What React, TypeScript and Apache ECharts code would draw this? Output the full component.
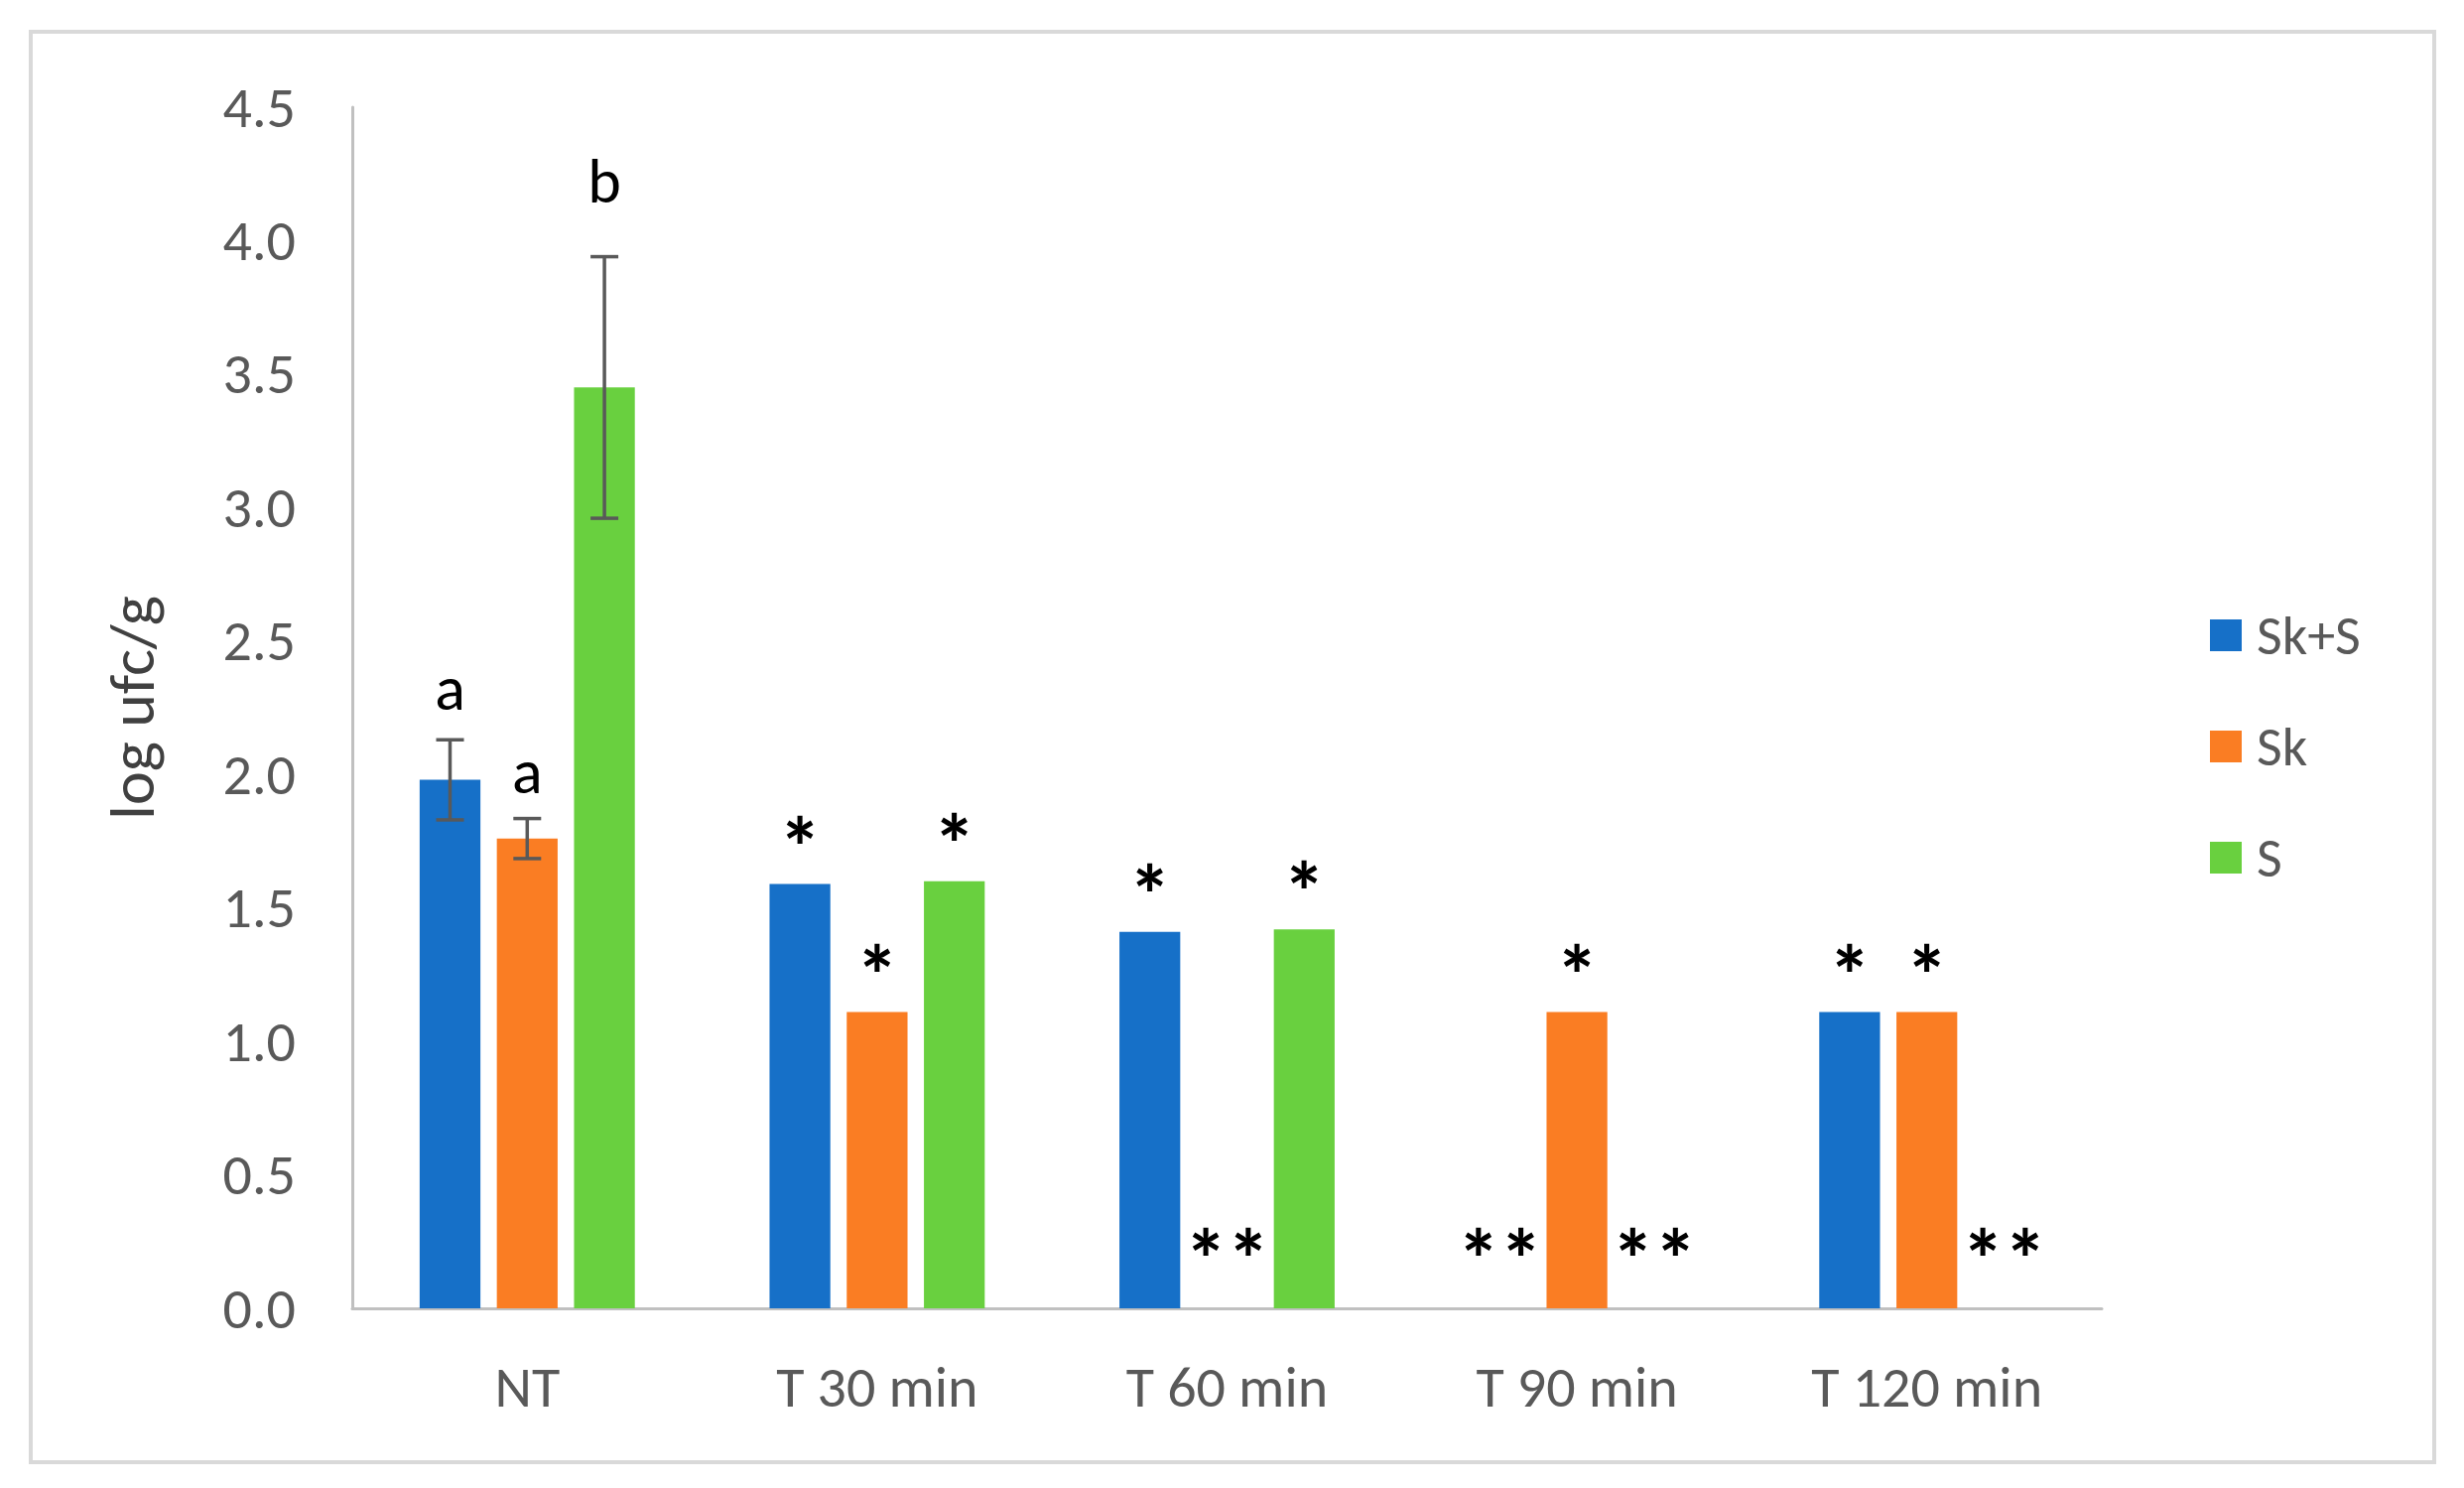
import React, { useEffect, useRef } from "react";
import * as echarts from "echarts";

const categories = ["NT", "T 30 min", "T 60 min", "T 90 min", "T 120 min"];
const seriesNames = ["Sk+S", "Sk", "S"];
const valuesSkS = [1.98, 1.59, 1.41, 0, 1.11];
const valuesSk = [1.76, 1.11, 0, 1.11, 1.11];
const valuesS = [3.45, 1.6, 1.42, 0, 0];
const errSkS = [0.15, 0, 0, 0, 0];
const errSk = [0.075, 0, 0, 0, 0];
const errS = [0.49, 0, 0, 0, 0];
const marksSkS = ["a", "*", "*", "**", "*"];
const marksSk = ["a", "*", "**", "*", "*"];
const marksS = ["b", "*", "*", "**", "**"];
const yTicks = [0, 0.5, 1.0, 1.5, 2.0, 2.5, 3.0, 3.5, 4.0, 4.5];

const COLORS = ["#1670C8", "#FA7D23", "#69D03F"];
const FONT = "Carlito, Lato, sans-serif";
const CAT_GAP = 0.385;
const BAR_GAP = 0.27;
const STAR_SIZE = 86;

export default function App() {
  const ref = useRef<HTMLDivElement>(null);
  useEffect(() => {
    if (!ref.current) return;
    const chart = echarts.init(ref.current, undefined, { renderer: "svg" });
    const values = [valuesSkS, valuesSk, valuesS];
    const errs = [errSkS, errSk, errS];
    const marks = [marksSkS, marksSk, marksS];

    const labelFor = (mark: string, v: number, e: number) => {
      const isStar = mark.indexOf("*") >= 0;
      let dist: number;
      if (isStar) dist = v === 0 ? 62 - 0.66 * STAR_SIZE : 50 - 0.66 * STAR_SIZE;
      else dist = e * 340 + 10;
      return {
        show: true,
        position: "top",
        distance: dist,
        formatter: mark,
        color: "#000000",
        fontFamily: FONT,
        fontWeight: isStar ? "bold" : "normal",
        fontSize: isStar ? STAR_SIZE : 64,
      };
    };

    const barSeries = values.map((vals, si) => ({
      name: seriesNames[si],
      type: "bar",
      data: vals.map((v, i) => ({
        value: v,
        label: labelFor(marks[si][i], v, errs[si][i]),
      })),
      itemStyle: { color: COLORS[si] },
      barGap: `${BAR_GAP * 100}%`,
      barCategoryGap: `${CAT_GAP * 100}%`,
      z: 2,
    }));

    const errSeries = values.map((vals, si) => ({
      type: "custom",
      name: "err" + si,
      z: 5,
      silent: true,
      data: vals
        .map((v, i) => [i, v - errs[si][i], v + errs[si][i], errs[si][i]])
        .filter((d) => d[3] > 0),
      encode: { x: 0, y: [1, 2] },
      renderItem: (params: any, api: any) => {
        const idx = api.value(0);
        const lo = api.coord([idx, api.value(1)]);
        const hi = api.coord([idx, api.value(2)]);
        const band = api.size([1, 0])[0];
        const n = 3;
        const w = (band * (1 - CAT_GAP)) / (n + (n - 1) * BAR_GAP);
        const off = (si - 1) * (w + BAR_GAP * w);
        const x = lo[0] + off;
        const cap = 14;
        const style = { stroke: "#595959", lineWidth: 3.5 };
        return {
          type: "group",
          children: [
            { type: "line", shape: { x1: x, y1: lo[1], x2: x, y2: hi[1] }, style },
            { type: "line", shape: { x1: x - cap, y1: lo[1], x2: x + cap, y2: lo[1] }, style },
            { type: "line", shape: { x1: x - cap, y1: hi[1], x2: x + cap, y2: hi[1] }, style },
          ],
        };
      },
    }));

    chart.setOption({
      animation: false,
      backgroundColor: "#ffffff",
      graphic: [
        {
          type: "rect",
          shape: { x: 31, y: 32, width: 2422, height: 1441 },
          style: { fill: "none", stroke: "#d9d9d9", lineWidth: 4 },
          z: -1,
        },
      ],
      legend: {
        orient: "vertical",
        left: 2222,
        top: 607,
        itemWidth: 32,
        itemHeight: 32,
        itemGap: 56,
        icon: "rect",
        data: seriesNames,
        textStyle: { color: "#595959", fontFamily: FONT, fontSize: 56, padding: [0, 0, 0, 10] },
      },
      grid: { left: 355, right: 365, top: 108, bottom: 181 },
      xAxis: {
        type: "category",
        data: categories,
        axisLine: { show: true, lineStyle: { color: "#c0c0c0", width: 3 } },
        axisTick: { show: false },
        axisLabel: { color: "#595959", fontFamily: FONT, fontSize: 58, margin: 50 },
      },
      yAxis: {
        type: "value",
        min: yTicks[0],
        max: yTicks[yTicks.length - 1],
        interval: 0.5,
        name: "log ufc/g",
        nameLocation: "middle",
        nameRotate: 90,
        nameGap: 190,
        nameTextStyle: { color: "#404040", fontFamily: FONT, fontSize: 64 },
        axisLine: { show: true, lineStyle: { color: "#c0c0c0", width: 3 } },
        axisTick: { show: false },
        splitLine: { show: false },
        axisLabel: {
          color: "#595959",
          fontFamily: FONT,
          fontSize: 58,
          margin: 57,
          formatter: (v: number) => v.toFixed(1),
        },
      },
      series: [...barSeries, ...errSeries],
    });
    return () => chart.dispose();
  }, []);
  return (
    <div
      ref={ref}
      style={{ position: "fixed", left: 0, top: 0, width: 2483, height: 1499 }}
    />
  );
}
